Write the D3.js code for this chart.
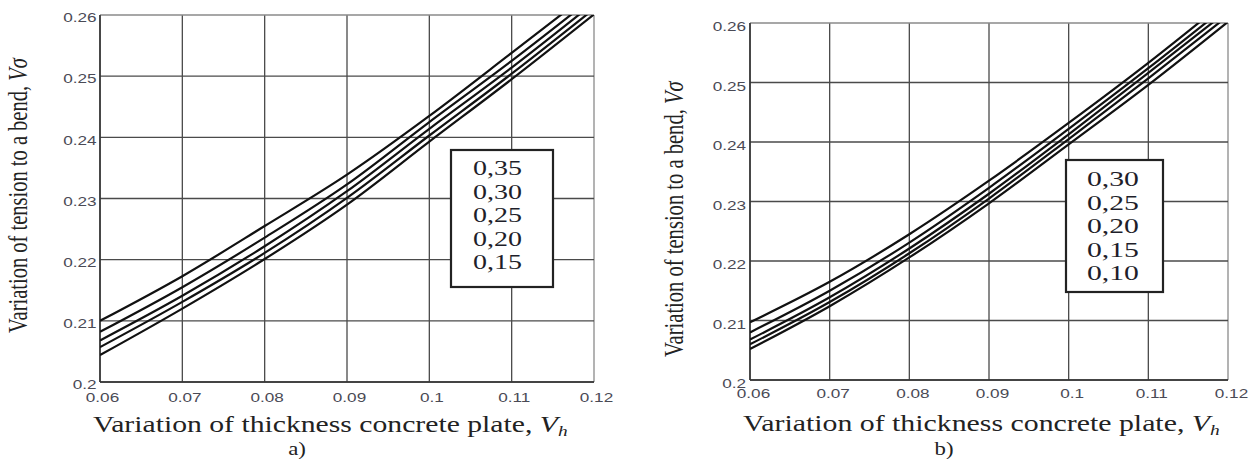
<!DOCTYPE html>
<html><head><meta charset="utf-8">
<script src="https://cdn.jsdelivr.net/npm/d3@7"></script>
<style>body{margin:0;background:#fff}svg{display:block}</style>
</head><body>
<svg id="c" width="1258" height="461"></svg>
<script>
// ---------- data ----------
const xValues = [0.06, 0.07, 0.08, 0.09, 0.10, 0.11, 0.12];
const xTickValues = [0.06, 0.07, 0.08, 0.09, 0.10, 0.11, 0.12];
const xTickLabels = ["0.06", "0.07", "0.08", "0.09", "0.1", "0.11", "0.12"];
const yTickValues = [0.20, 0.21, 0.22, 0.23, 0.24, 0.25, 0.26];
const yTickLabels = ["0.2", "0.21", "0.22", "0.23", "0.24", "0.25", "0.26"];

// panel a)
const legendA = ["0,35", "0,30", "0,25", "0,20", "0,15"];
const a035 = [0.2100, 0.2173, 0.2255, 0.2339, 0.2435, 0.2538, 0.2642];
const a030 = [0.2082, 0.2155, 0.2236, 0.2323, 0.2425, 0.2525, 0.2630];
const a025 = [0.2068, 0.2141, 0.2222, 0.2312, 0.2414, 0.2514, 0.2620];
const a020 = [0.2057, 0.2131, 0.2211, 0.2301, 0.2403, 0.2504, 0.2610];
const a015 = [0.2044, 0.2120, 0.2201, 0.2290, 0.2393, 0.2495, 0.2601];

// panel b)
const legendB = ["0,30", "0,25", "0,20", "0,15", "0,10"];
const b030 = [0.2097, 0.2165, 0.2245, 0.2335, 0.2432, 0.2533, 0.2640];
const b025 = [0.2080, 0.2150, 0.2231, 0.2323, 0.2422, 0.2524, 0.2630];
const b020 = [0.2068, 0.2139, 0.2221, 0.2313, 0.2413, 0.2516, 0.2621];
const b015 = [0.2060, 0.2131, 0.2213, 0.2305, 0.2405, 0.2507, 0.2612];
const b010 = [0.2052, 0.2124, 0.2206, 0.2297, 0.2396, 0.2496, 0.2602];

const xTitleText = "Variation of thickness concrete plate, ";
const yTitleText = "Variation of tension to a bend, ";

// ---------- layout ----------
const panels = [
  { series: [a035, a030, a025, a020, a015], legend: legendA, id: "a",
    x0: 100, x1: 594, y0: 15, y1: 382,
    yLabRight: 96.5, yLabDy: 2, xLabBase: 20, xLabDx: 2,
    xTitle: { x: 93, y: 432, w: 475 }, yTitle: { x: 27, y: 333, w: 276 },
    sub: { label: "a)", x: 297, y: 455 },
    box: { x: 451, y: 150, w: 102, h: 137 }, legText: { x: 473, y: 175, w: 49, step: 23.5 } },
  { series: [b030, b025, b020, b015, b010], legend: legendB, id: "b",
    x0: 750, x1: 1228, y0: 23, y1: 380,
    yLabRight: 746, yLabDy: 3, xLabBase: 18, xLabDx: 3,
    xTitle: { x: 743, y: 431, w: 477 }, yTitle: { x: 683, y: 357, w: 277 },
    sub: { label: "b)", x: 944, y: 455 },
    box: { x: 1066, y: 160, w: 97, h: 132 }, legText: { x: 1087, y: 186, w: 52, step: 23.5 } }
];

const svg = d3.select("#c");
const SERIF = "'Liberation Serif','Times New Roman',serif";
const SANS = "'Liberation Sans',Arial,sans-serif";

panels.forEach((p, pi) => {
  const x = d3.scaleLinear().domain([0.06, 0.12]).range([p.x0, p.x1]);
  const y = d3.scaleLinear().domain([0.20, 0.26]).range([p.y1, p.y0]);
  const g = svg.append("g");

  // grid
  const grid = g.append("g");
  grid.selectAll("line.v").data(xTickValues).join("line")
    .attr("x1", d => x(d)).attr("x2", d => x(d))
    .attr("y1", p.y0).attr("y2", p.y1)
    .attr("stroke", (d, i) => i === xTickValues.length - 1 ? "#8a8a8a" : "#4a4a4a")
    .attr("stroke-width", 1.3);
  grid.selectAll("line.h").data(yTickValues).join("line")
    .attr("y1", d => y(d)).attr("y2", d => y(d))
    .attr("x1", p.x0).attr("x2", p.x1)
    .attr("stroke", (d, i) => i === yTickValues.length - 1 ? "#8a8a8a" : "#4a4a4a")
    .attr("stroke-width", 1.3);
  // left and bottom axis lines
  g.append("line").attr("x1", p.x0).attr("x2", p.x0).attr("y1", p.y0).attr("y2", p.y1)
    .attr("stroke", "#333").attr("stroke-width", 1.5);
  g.append("line").attr("x1", p.x0).attr("x2", p.x1).attr("y1", p.y1).attr("y2", p.y1)
    .attr("stroke", "#333").attr("stroke-width", 1.5);

  // axes (labels only) via d3 axis
  const yAxis = d3.axisLeft(y).tickValues(yTickValues).tickFormat((d, i) => yTickLabels[i]).tickSize(0);
  const ya = g.append("g").attr("transform", `translate(${p.yLabRight},0)`).call(yAxis);
  ya.select(".domain").remove();
  ya.selectAll("text").attr("x", 0).attr("dy", null)
    .attr("font-family", SANS).attr("font-size", 13.5).attr("fill", "#4a4a55")
    .attr("dominant-baseline", "central")
    .attr("transform", `translate(0,${p.yLabDy}) scale(1.27,1)`);

  const xAxis = d3.axisBottom(x).tickValues(xTickValues).tickFormat((d, i) => xTickLabels[i]).tickSize(0);
  const xa = g.append("g").attr("transform", `translate(0,${p.y1 + p.xLabBase})`).call(xAxis);
  xa.select(".domain").remove();
  xa.selectAll("text").attr("y", 0).attr("dy", null)
    .attr("font-family", SANS).attr("font-size", 13.5).attr("fill", "#4a4a55")
    .attr("transform", `translate(${p.xLabDx},0) scale(1.27,1)`);

  // curves
  const clipId = "clip" + p.id;
  svg.append("clipPath").attr("id", clipId).append("rect")
    .attr("x", p.x0).attr("y", p.y0).attr("width", p.x1 - p.x0).attr("height", p.y1 - p.y0);
  const line = d3.line().x((d, i) => x(xValues[i])).y(d => y(d)).curve(d3.curveMonotoneX);
  g.append("g").attr("clip-path", `url(#${clipId})`)
    .selectAll("path").data(p.series).join("path")
    .attr("d", line).attr("fill", "none").attr("stroke", "#111").attr("stroke-width", 2.2);

  // legend box
  g.append("rect").attr("x", p.box.x).attr("y", p.box.y).attr("width", p.box.w).attr("height", p.box.h)
    .attr("fill", "#fff").attr("stroke", "#222").attr("stroke-width", 2.2);
  p.legend.forEach((lab, i) => {
    const t = g.append("text").attr("font-family", SERIF).attr("font-size", 22).attr("fill", "#1e1e2a").text(lab);
    const w = t.node().getComputedTextLength();
    t.attr("transform", `translate(${p.legText.x},${p.legText.y + i * p.legText.step}) scale(${p.legText.w / w},1)`);
  });

  // x title
  const xt = g.append("text").attr("font-family", SERIF).attr("font-size", 23).attr("fill", "#222");
  xt.append("tspan").text(xTitleText);
  xt.append("tspan").attr("font-style", "italic").text("V");
  xt.append("tspan").attr("font-style", "italic").attr("font-size", 15).attr("dy", 4).text("h");
  const xw = xt.node().getBBox().width;
  xt.attr("transform", `translate(${p.xTitle.x},${p.xTitle.y}) scale(${p.xTitle.w / xw},1)`);

  // y title
  const yt = g.append("text").attr("font-family", SERIF).attr("font-size", 22).attr("fill", "#222");
  yt.append("tspan").text(yTitleText);
  yt.append("tspan").attr("font-style", "italic").text("Vσ");
  const yw = yt.node().getBBox().width;
  yt.attr("transform", `translate(${p.yTitle.x},${p.yTitle.y}) rotate(-90) scale(${p.yTitle.w / yw},1.25)`);

  // sub label
  const st = g.append("text").attr("font-family", SERIF).attr("font-size", 19).attr("fill", "#222")
    .attr("text-anchor", "middle").text(p.sub.label);
  st.attr("transform", `translate(${p.sub.x},${p.sub.y}) scale(1.2,1)`);
});
</script>
</body></html>
